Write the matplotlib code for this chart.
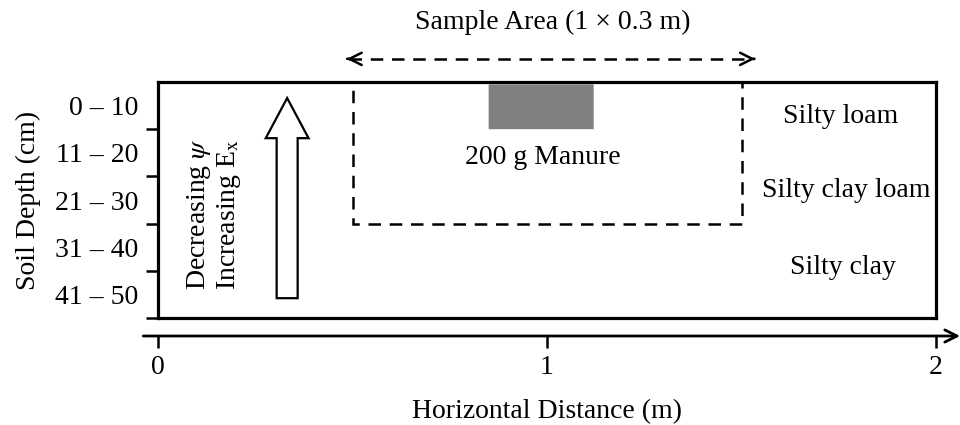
import matplotlib
matplotlib.use("Agg")
import matplotlib.pyplot as plt
from matplotlib.patches import Rectangle, FancyArrow, FancyBboxPatch

plt.rcParams['font.family'] = ['Liberation Serif', 'DejaVu Serif']
plt.rcParams['mathtext.fontset'] = 'stix'

# ---- data ----
depth_bounds = [10, 20, 30, 40, 50]
depth_centers = [5, 15, 25, 35, 45]
depth_labels = ["0 \u2013 10", "11 \u2013 20", "21 \u2013 30", "31 \u2013 40", "41 \u2013 50"]
x_ticks = [0, 1, 2]
x_ticklabels = ["0", "1", "2"]
soil_types = ["Silty loam", "Silty clay loam", "Silty clay"]
soil_label_x = [1.755, 1.77, 1.76]
soil_label_depth = [7.4, 22.9, 39.4]
sample_x = [0.5, 1.5]        # m
sample_depth = [0, 30]       # cm
manure_x = [0.85, 1.12]
manure_depth = [0.5, 10]
grad_arrow_x = 0.332
grad_arrow_depth = [45.8, 3.4]

FS = 20

fig = plt.figure(figsize=(9.6, 4.25), dpi=100)
ax = fig.add_axes([158/960, 1-318/425, (936-158)/960, (318-82)/425])
ax.set_xlim(0, 2)
ax.set_ylim(50, 0)

for s in ax.spines.values():
    s.set_linewidth(2.3)

# y axis: boundaries as major ticks, labels at band centers
ax.set_yticks(depth_bounds)
ax.set_yticklabels([])
ax.set_yticks(depth_centers, minor=True)
ax.set_yticklabels(depth_labels, minor=True, fontsize=FS)
ax.tick_params(axis='y', which='major', direction='out', length=8.5, width=1.8)
ax.tick_params(axis='y', which='minor', length=0, pad=14)
ax.tick_params(axis='x', which='both', bottom=False, labelbottom=False)
ax.set_ylabel("Soil Depth (cm)", fontsize=FS, labelpad=10)

# separate horizontal-distance axis
sec = ax.secondary_xaxis(-18/236)
sec.set_xticks(x_ticks)
sec.set_xticklabels(x_ticklabels, fontsize=FS)
sec.spines['bottom'].set_visible(False)
sec.tick_params(direction='out', length=8.5, width=1.8, pad=5)
sec.set_xlabel("Horizontal Distance (m)", fontsize=FS, labelpad=14)
ax.annotate("", xy=(2.062, -18/236), xytext=(-0.038, -18/236),
            xycoords=('data', 'axes fraction'), textcoords=('data', 'axes fraction'),
            arrowprops=dict(arrowstyle='->', lw=2.0, color='black',
                            shrinkA=0, shrinkB=0, mutation_scale=22),
            annotation_clip=False)

# sample area (dashed rectangle)
ax.add_patch(Rectangle((sample_x[0], sample_depth[0]), sample_x[1]-sample_x[0],
                       sample_depth[1]-sample_depth[0], fill=False,
                       edgecolor='black', lw=1.8, linestyle=(0, (5, 3.5)), zorder=3))

# dashed double arrow above the box
arr_y = -4.9
ax.plot([sample_x[0]-0.01, sample_x[1]+0.03], [arr_y, arr_y], color='black', lw=1.8,
        linestyle=(0, (5, 3.5)), clip_on=False)
for tip, frm in [(sample_x[0]-0.015, sample_x[0]-0.012), (sample_x[1]+0.035, sample_x[1]+0.032)]:
    ax.annotate("", xy=(tip, arr_y), xytext=(frm, arr_y),
                arrowprops=dict(arrowstyle='->', lw=1.8, color='black',
                                shrinkA=0, shrinkB=0, mutation_scale=22),
                annotation_clip=False)
ax.text(1.015, -12.6, "Sample Area (1 \u00d7 0.3 m)", ha='center', va='center', fontsize=FS)

# manure
ax.add_patch(FancyBboxPatch((manure_x[0], manure_depth[0]), manure_x[1]-manure_x[0],
                            manure_depth[1]-manure_depth[0],
                            boxstyle="round,pad=0,rounding_size=0.004",
                            facecolor='#808080', edgecolor='none', zorder=2))
ax.text(0.99, 15.9, "200 g Manure", ha='center', va='center', fontsize=FS)

# soil textures
for lab, x, d in zip(soil_types, soil_label_x, soil_label_depth):
    ax.text(x, d, lab, ha='center', va='center', fontsize=FS)

# gradient arrow
ax.add_patch(FancyArrow(grad_arrow_x, grad_arrow_depth[0], 0,
                        grad_arrow_depth[1]-grad_arrow_depth[0], width=0.054,
                        head_width=0.11, head_length=8.5, length_includes_head=True,
                        facecolor='white', edgecolor='black', lw=1.6, zorder=3))
ax.text(0.105, 28, r"Decreasing $\psi$", rotation=90, ha='center', va='center', fontsize=FS)
ax.text(0.183, 28, r"Increasing E$_{\mathrm{x}}$", rotation=90, ha='center', va='center', fontsize=FS)

fig.savefig("out.png", dpi=100)
